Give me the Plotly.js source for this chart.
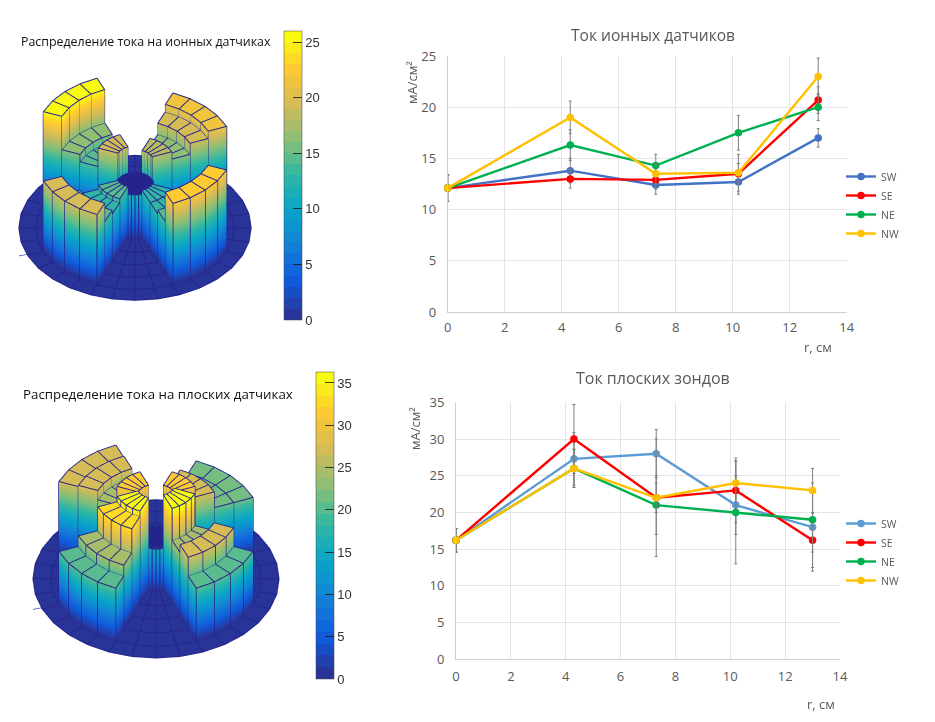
<!DOCTYPE html>
<html><head><meta charset="utf-8"><script src="https://cdn.plot.ly/plotly-3.0.1.min.js"></script>
<style>html,body{margin:0;padding:0;background:#fff}#c{width:935px;height:722px}</style></head><body><div id="c"></div>
<script>
// ---- line chart data
const r = [0, 4.3, 7.3, 10.2, 13];
const seriesNames = ['SW', 'SE', 'NE', 'NW'];
const ionSW = [12.1, 13.8, 12.4, 12.7, 17];
const ionSE = [12.1, 13, 12.9, 13.5, 20.7];
const ionNE = [12.1, 16.3, 14.3, 17.5, 20];
const ionNW = [12.1, 19, 13.5, 13.6, 23];
const ionErrSW = [1.3, 1.2, 0.9, 1.2, 0.9];
const ionErrSE = [1.3, 0.9, 0.9, 1.0, 1.3];
const ionErrNE = [1.3, 1.5, 1.1, 1.7, 1.3];
const ionErrNW = [1.3, 1.6, 1.0, 1.8, 1.8];
const flatSW = [16.2, 27.3, 28, 21, 18];
const flatSE = [16.2, 30, 22, 23, 16.2];
const flatNE = [16.2, 26, 21, 20, 19];
const flatNW = [16.2, 26, 22, 24, 23];
const flatErrSW = [1.6, 3.6, 3.3, 4, 6];
const flatErrSE = [1.6, 4.7, 2, 4.4, 3.7];
const flatErrNE = [1.6, 2.6, 4, 7, 4.4];
const flatErrNW = [1.6, 2.6, 8, 3, 3];
// ---- 3D column heights per sector, inner ring to outer ring
const ringEdges = [0, 2.7, 5.8, 8.7, 11.6, 14.5, 17];
const ion3dCentre = 12;
const ion3dNE = [18, 16, 19, 21];
const ion3dNW = [19, 14, 16, 25];
const ion3dSW = [14, 13, 14, 19];
const ion3dSE = [13, 13, 14, 22];
const flat3dCentre = 16;
const flat3dNE = [31, 27, 21, 21];
const flat3dNW = [31, 24, 27.5, 27];
const flat3dSW = [35, 33, 24, 20];
const flat3dSE = [36, 24, 27, 20];
const parulaAnchors = ['rgb(40,52,152)','rgb(15,92,221)','rgb(20,129,214)','rgb(6,164,202)','rgb(46,183,164)','rgb(135,191,119)','rgb(209,187,89)','rgb(254,200,50)','rgb(249,251,14)'];

const W = 935, H = 722;
const px = v => v / W, py = v => 1 - v / H;
const GREY = '#595959', FONT = '"Open Sans", sans-serif';

function bandedScale(nBands) {
  const parse = s => s.match(/\d+/g).map(Number);
  const at = t => {
    const p = t * (parulaAnchors.length - 1), i = Math.min(Math.floor(p), parulaAnchors.length - 2), f = p - i;
    const a = parse(parulaAnchors[i]), b = parse(parulaAnchors[i + 1]);
    return `rgb(${a.map((v, k) => Math.round(v + (b[k] - v) * f)).join(',')})`;
  };
  const out = [];
  for (let n = 0; n < nBands; n++) {
    const c = at(n / (nBands - 1));
    out.push([n / nBands, c], [(n + 1) / nBands, c]);
  }
  return out;
}

function disk(centre, ne, nw, sw, se, zMax, sceneName, cbar, bands) {
  const N = 32, dT = 2 * Math.PI / N;
  const sectors = {2: ne, 10: nw, 18: sw, 26: se};
  const height = (k, b) => {
    if (b === 0) return centre;
    if (b === ringEdges.length - 2) return 0;
    for (const s in sectors) if (k >= +s && k < +s + 4) return sectors[s][b - 1];
    return 0;
  };
  const X = [], Y = [], Z = [];
  const nR = ringEdges.length - 1;
  for (let kk = 0; kk <= N; kk++) {
    const k = kk % N;
    for (const t of (kk === N ? [k * dT] : [k * dT, (k + 1) * dT])) {
      const xr = [], yr = [], zr = [];
      for (let b = 0; b < nR; b++) for (const rad of [ringEdges[b], ringEdges[b + 1]]) {
        xr.push(rad * Math.cos(t)); yr.push(rad * Math.sin(t)); zr.push(height(k, b));
      }
      X.push(xr); Y.push(yr); Z.push(zr);
    }
  }
  const surf = {type: 'surface', x: X, y: Y, z: Z, surfacecolor: Z, scene: sceneName, cmin: 0, cmax: zMax,
    colorscale: bandedScale(bands), hoverinfo: 'skip', showlegend: false,
    lighting: {ambient: 1, diffuse: 0, specular: 0, fresnel: 0, roughness: 1},
    colorbar: cbar};
  const lx = [], ly = [], lz = [];
  const seg = (a, ra, za, b, rb, zb) => {
    lx.push(ra * Math.cos(a), rb * Math.cos(b), null);
    ly.push(ra * Math.sin(a), rb * Math.sin(b), null);
    lz.push(za, zb, null);
  };
  const e = 0.08;
  for (let k = 0; k < N; k++) for (let b = 0; b < nR; b++) {
    const h = height(k, b) + e, t0 = k * dT, t1 = (k + 1) * dT, r0 = ringEdges[b], r1 = ringEdges[b + 1];
    seg(t0, r1, h, t1, r1, h);
    seg(t0, r0, h, t1, r0, h);
    seg(t0, r0, h, t0, r1, h);
    seg(t1, r0, h, t1, r1, h);
    if (h > e + 0.01) {
      for (const t of [t0, t1]) for (const rr of [r0 + 0.03, r1 + 0.03]) seg(t, rr, 0, t, rr, h);
    }
    if (b === 0) for (let m = 1; m < 3; m++) seg(t0 + m * dT / 3, 0, h, t0 + m * dT / 3, r1, h);
  }
  const mesh = {type: 'scatter3d', mode: 'lines', x: lx, y: ly, z: lz, scene: sceneName, showlegend: false, hoverinfo: 'skip',
    line: {color: '#24248c', width: 2}};
  const stub = {type: 'scatter3d', mode: 'lines', x: [-ringEdges[6] * 0.92, -ringEdges[6] * 1.12], y: [-ringEdges[6] * 0.36, -ringEdges[6] * 0.42], z: [0, 0],
    scene: sceneName, showlegend: false, hoverinfo: 'skip', line: {color: '#4a4ab8', width: 1.5}};
  return [surf, mesh, stub];
}

function lineTrace(name, y, err, color, xa, ya, legend) {
  return {type: 'scatter', mode: 'lines+markers', name, x: r, y, xaxis: xa, yaxis: ya, legend, cliponaxis: false,
    line: {color, width: 2.4}, marker: {color, size: 7.5},
    error_y: {type: 'data', array: err, visible: true, color: '#7f7f7f', thickness: 1, width: 1.5}};
}

const cbTicks = {ticks: 'inside', ticklen: 9, tickcolor: 'rgba(30,30,30,0.85)', tickfont: {family: '"Liberation Sans", sans-serif', size: 13, color: '#333'},
  xref: 'paper', yref: 'paper', xanchor: 'left', yanchor: 'top', xpad: 0, ypad: 0, lenmode: 'pixels', thicknessmode: 'pixels', thickness: 18, outlinewidth: 0.5, outlinecolor: '#444', tickwidth: 1};

const data = [
  ...disk(ion3dCentre, ion3dNE, ion3dNW, ion3dSW, ion3dSE, 26, 'scene', {...cbTicks, x: px(284), y: py(31), len: 289, tickvals: [0, 5, 10, 15, 20, 25]}, 26),
  ...disk(flat3dCentre, flat3dNE, flat3dNW, flat3dSW, flat3dSE, 36.3, 'scene2', {...cbTicks, x: px(316), y: py(372), len: 307, tickvals: [0, 5, 10, 15, 20, 25, 30, 35]}, 26),
  lineTrace(seriesNames[0], ionSW, ionErrSW, '#4472C4', 'x', 'y', 'legend'),
  lineTrace(seriesNames[1], ionSE, ionErrSE, '#FF0000', 'x', 'y', 'legend'),
  lineTrace(seriesNames[2], ionNE, ionErrNE, '#00B050', 'x', 'y', 'legend'),
  lineTrace(seriesNames[3], ionNW, ionErrNW, '#FFC000', 'x', 'y', 'legend'),
  lineTrace(seriesNames[0], flatSW, flatErrSW, '#5B9BD5', 'x2', 'y2', 'legend2'),
  lineTrace(seriesNames[1], flatSE, flatErrSE, '#FF0000', 'x2', 'y2', 'legend2'),
  lineTrace(seriesNames[2], flatNE, flatErrNE, '#00B050', 'x2', 'y2', 'legend2'),
  lineTrace(seriesNames[3], flatNW, flatErrNW, '#FFC000', 'x2', 'y2', 'legend2'),
];

function axis(domain, range, dtick, anchor, ticklen) {
  return {domain, range, dtick, anchor, showline: true, linecolor: '#cfcfcf', linewidth: 1, gridcolor: '#e4e4e4', gridwidth: 1, zeroline: false,
    ticks: 'outside', ticklen, tickcolor: 'rgba(0,0,0,0)', tickfont: {family: FONT, size: 13, color: GREY}, fixedrange: true};
}
function scene(x0, x1, y0, y1, elev, k, zAspect, zMax) {
  const a = elev * Math.PI / 180, hidden = {visible: false, range: [-ringEdges[6], ringEdges[6]], autorange: false}, dist = 2;
  return {domain: {x: [px(x0), px(x1)], y: [py(y1), py(y0)]}, aspectmode: 'manual', aspectratio: {x: k, y: k, z: k * zAspect},
    xaxis: hidden, yaxis: hidden, zaxis: {visible: false, range: [0, zMax], autorange: false},
    camera: {eye: {x: 0, y: -dist * Math.cos(a), z: dist * Math.sin(a)}, up: {x: 0, y: 0, z: 1}, center: {x: 0, y: 0, z: 0}, projection: {type: 'orthographic'}}, bgcolor: 'rgba(0,0,0,0)'};
}
const note = (text, x, y, size, color, extra) => ({text, x: px(x), y: py(y), xref: 'paper', yref: 'paper', showarrow: false,
  font: {family: FONT, size, color}, xanchor: 'center', yanchor: 'middle', ...extra});

const layout = {
  width: W, height: H, margin: {l: 0, r: 0, t: 0, b: 0}, paper_bgcolor: '#fff', plot_bgcolor: '#fff', showlegend: true,
  scene: scene(0, 270, 40, 320, 38.6, 1.66, 0.53, 26),
  scene2: scene(20, 292, 395, 667, 40, 1.81, 0.51, 36.3),
  xaxis: axis([px(447.7), px(846.7)], [0, 14], 2, 'y', 3),
  yaxis: axis([py(312), py(56)], [0, 25], 5, 'x', 8),
  xaxis2: axis([px(456), px(840)], [0, 14], 2, 'y2', 5),
  yaxis2: axis([py(659.3), py(402.3)], [0, 35], 5, 'x2', 8),
  legend: {x: px(841), y: py(162), xanchor: 'left', yanchor: 'top', bgcolor: 'rgba(0,0,0,0)', font: {family: FONT, size: 10.5, color: GREY}, itemclick: false},
  legend2: {x: px(841), y: py(509), xanchor: 'left', yanchor: 'top', bgcolor: 'rgba(0,0,0,0)', font: {family: FONT, size: 10.5, color: GREY}, itemclick: false},
  annotations: [
    note('Распределение тока на ионных датчиках', 146, 41, 12.4, '#111'),
    note('Распределение тока на плоских датчиках', 158, 394, 13.3, '#111'),
    note('Ток ионных датчиков', 653, 35, 15.6, GREY),
    note('Ток плоских зондов', 653, 378, 16, GREY),
    note('мА/см²', 412, 83, 13, GREY, {textangle: -90}),
    note('мА/см²', 415, 429, 13, GREY, {textangle: -90}),
    note('r, см', 818, 347, 13, GREY),
    note('r, см', 821, 704, 13, GREY),
  ],
};
Plotly.newPlot('c', data, layout, {displayModeBar: false});
</script></body></html>
